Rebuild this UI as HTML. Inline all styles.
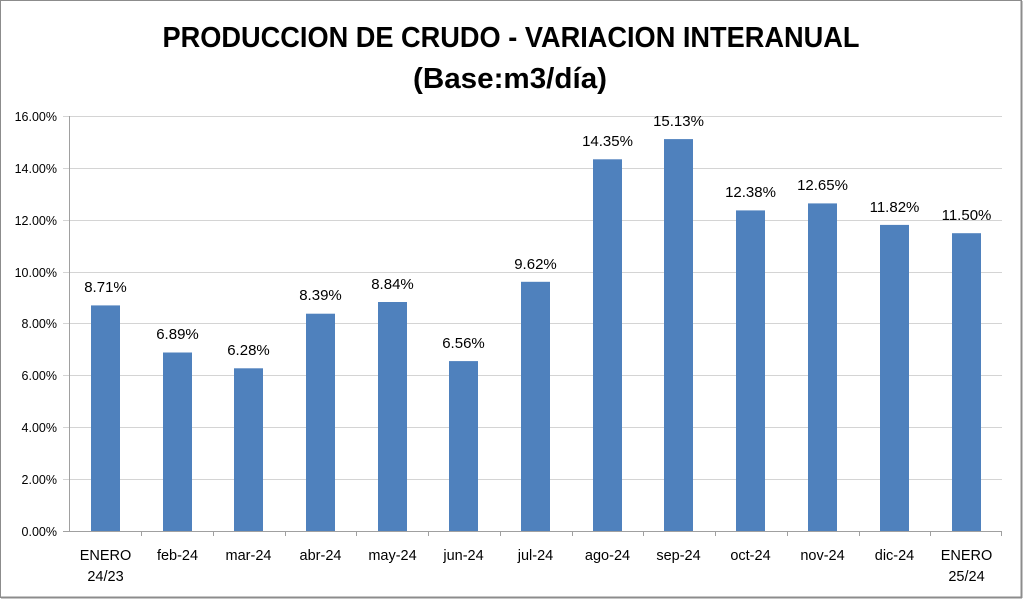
<!DOCTYPE html>
<html><head><meta charset="utf-8"><style>html,body{margin:0;padding:0;background:#fff}svg{display:block}</style></head>
<body>
<svg width="1023" height="599" xmlns="http://www.w3.org/2000/svg" font-family="'Liberation Sans', sans-serif">
<rect x="0.5" y="0.5" width="1021" height="597" fill="#fff" stroke="#8c8c8c" stroke-width="1"/>
<line x1="1021.5" y1="1" x2="1021.5" y2="598" stroke="#8c8c8c" stroke-width="2"/>
<line x1="1" y1="597.5" x2="1022" y2="597.5" stroke="#8c8c8c" stroke-width="2"/>
<text x="511" y="47" text-anchor="middle" font-size="29" font-weight="bold" textLength="697" lengthAdjust="spacingAndGlyphs">PRODUCCION DE CRUDO - VARIACION INTERANUAL</text>
<text x="510" y="88" text-anchor="middle" font-size="29" font-weight="bold" textLength="194" lengthAdjust="spacingAndGlyphs">(Base:m3/día)</text>
<g stroke="#d4d4d4" stroke-width="1">
<line x1="63" y1="116.5" x2="1002" y2="116.5"/>
<line x1="63" y1="168.5" x2="1002" y2="168.5"/>
<line x1="63" y1="220.5" x2="1002" y2="220.5"/>
<line x1="63" y1="272.5" x2="1002" y2="272.5"/>
<line x1="63" y1="323.5" x2="1002" y2="323.5"/>
<line x1="63" y1="375.5" x2="1002" y2="375.5"/>
<line x1="63" y1="427.5" x2="1002" y2="427.5"/>
<line x1="63" y1="479.5" x2="1002" y2="479.5"/>
</g>
<g font-size="12.5" fill="#000" text-anchor="end">
<text x="57" y="121">16.00%</text><text x="57" y="173">14.00%</text><text x="57" y="225">12.00%</text><text x="57" y="277">10.00%</text><text x="57" y="328">8.00%</text><text x="57" y="380">6.00%</text><text x="57" y="432">4.00%</text><text x="57" y="484">2.00%</text><text x="57" y="536">0.00%</text>
</g>
<g fill="#4f81bd">
<rect x="91" y="305.4" width="29" height="225.6"/>
<rect x="163" y="352.5" width="29" height="178.5"/>
<rect x="234" y="368.3" width="29" height="162.7"/>
<rect x="306" y="313.7" width="29" height="217.3"/>
<rect x="378" y="302" width="29" height="229"/>
<rect x="449" y="361.1" width="29" height="169.9"/>
<rect x="521" y="281.8" width="29" height="249.2"/>
<rect x="593" y="159.3" width="29" height="371.7"/>
<rect x="664" y="139.1" width="29" height="391.9"/>
<rect x="736" y="210.4" width="29" height="320.6"/>
<rect x="808" y="203.4" width="29" height="327.6"/>
<rect x="880" y="224.9" width="29" height="306.1"/>
<rect x="952" y="233.2" width="29" height="297.8"/>
</g>
<g stroke="#a0a0a0" stroke-width="1">
<line x1="69.5" y1="116" x2="69.5" y2="531"/>
<line x1="63" y1="531.5" x2="1002" y2="531.5"/>
<line x1="141.5" y1="531" x2="141.5" y2="536"/><line x1="213.5" y1="531" x2="213.5" y2="536"/><line x1="285.5" y1="531" x2="285.5" y2="536"/><line x1="356.5" y1="531" x2="356.5" y2="536"/><line x1="428.5" y1="531" x2="428.5" y2="536"/><line x1="500.5" y1="531" x2="500.5" y2="536"/><line x1="572.5" y1="531" x2="572.5" y2="536"/><line x1="643.5" y1="531" x2="643.5" y2="536"/><line x1="715.5" y1="531" x2="715.5" y2="536"/><line x1="787.5" y1="531" x2="787.5" y2="536"/><line x1="859.5" y1="531" x2="859.5" y2="536"/><line x1="930.5" y1="531" x2="930.5" y2="536"/><line x1="1001.5" y1="531" x2="1001.5" y2="536"/>
</g>
<g font-size="15" fill="#000" text-anchor="middle">
<text x="105.5" y="292">8.71%</text>
<text x="177.5" y="339">6.89%</text>
<text x="248.5" y="355">6.28%</text>
<text x="320.5" y="300">8.39%</text>
<text x="392.5" y="289">8.84%</text>
<text x="463.5" y="348">6.56%</text>
<text x="535.5" y="269">9.62%</text>
<text x="607.5" y="146">14.35%</text>
<text x="678.5" y="126">15.13%</text>
<text x="750.5" y="197">12.38%</text>
<text x="822.5" y="190">12.65%</text>
<text x="894.5" y="212">11.82%</text>
<text x="966.5" y="220">11.50%</text>
</g>
<g font-size="14.5" fill="#000" text-anchor="middle">
<text x="105.5" y="560">ENERO</text><text x="105.5" y="581">24/23</text>
<text x="177.5" y="560">feb-24</text>
<text x="248.5" y="560">mar-24</text>
<text x="320.5" y="560">abr-24</text>
<text x="392.5" y="560">may-24</text>
<text x="463.5" y="560">jun-24</text>
<text x="535.5" y="560">jul-24</text>
<text x="607.5" y="560">ago-24</text>
<text x="678.5" y="560">sep-24</text>
<text x="750.5" y="560">oct-24</text>
<text x="822.5" y="560">nov-24</text>
<text x="894.5" y="560">dic-24</text>
<text x="966.5" y="560">ENERO</text><text x="966.5" y="581">25/24</text>
</g>
</svg>
</body></html>
